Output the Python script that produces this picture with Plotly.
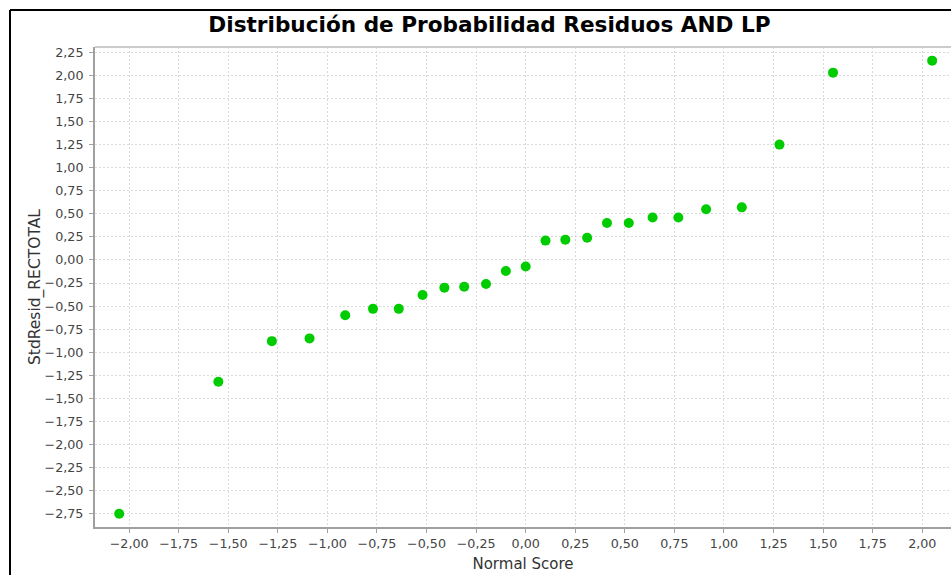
import plotly.graph_objects as go

# Normal scores (x) and standardized residuals (y)
normal_score = [-2.05, -1.55, -1.28, -1.09, -0.91, -0.77, -0.64, -0.52, -0.41, -0.31,
                -0.20, -0.10, 0.00, 0.10, 0.20, 0.31, 0.41, 0.52, 0.64, 0.77,
                0.91, 1.09, 1.28, 1.55, 2.05]
std_resid = [-2.75, -1.32, -0.88, -0.85, -0.60, -0.53, -0.53, -0.38, -0.30, -0.29,
             -0.26, -0.12, -0.07, 0.21, 0.22, 0.24, 0.40, 0.40, 0.46, 0.46,
             0.55, 0.57, 1.25, 2.03, 2.16]

x_ticks = [-2.0, -1.75, -1.5, -1.25, -1.0, -0.75, -0.5, -0.25, 0.0, 0.25, 0.5, 0.75,
           1.0, 1.25, 1.5, 1.75, 2.0]
y_ticks = [2.25, 2.0, 1.75, 1.5, 1.25, 1.0, 0.75, 0.5, 0.25, 0.0, -0.25, -0.5, -0.75,
           -1.0, -1.25, -1.5, -1.75, -2.0, -2.25, -2.5, -2.75]

title_text = "Distribución de Probabilidad Residuos AND LP"
x_title = "Normal Score"
y_title = "StdResid_RECTOTAL"

W, H = 951, 575
L, R, T, B = 95, 0, 47, 48

fig = go.Figure()
fig.add_trace(go.Scatter(
    x=normal_score, y=std_resid, mode="markers",
    marker=dict(size=10, color="#00cc00", line=dict(width=0)),
    showlegend=False, cliponaxis=False,
))

font = "DejaVu Sans"
pw = W - L - R
ph = H - T - B


def px_x(p):
    return (p - L) / pw


def px_y(p):
    return (H - B - p) / ph


fig.update_layout(
    width=W, height=H,
    margin=dict(l=L, r=R, t=T, b=B, pad=0),
    paper_bgcolor="white", plot_bgcolor="white",
    separators=",.",
    title=dict(text=title_text, x=489.5 / W, xanchor="center",
               y=1 - 24.5 / H, yanchor="middle",
               font=dict(family=font, size=21.6, color="black", weight="bold")),
    xaxis=dict(
        range=[-2.172, 2.145], tickvals=x_ticks, tickformat=".2f",
        showgrid=True, gridcolor="#d9d9d9", griddash="2px,2px", gridwidth=1,
        zeroline=False, showline=True, linecolor="#a0a0a0", linewidth=2,
        ticks="outside", ticklen=4, tickcolor="#a0a0a0", tickwidth=1,
        tickfont=dict(family=font, size=12.7, color="#444444"),
        title=dict(text=x_title, font=dict(family=font, size=15, color="#333333"), standoff=8),
    ),
    yaxis=dict(
        range=[-2.894, 2.308], tickvals=y_ticks, tickformat=".2f",
        showgrid=True, gridcolor="#d9d9d9", griddash="2px,2px", gridwidth=1,
        zeroline=False, showline=True, linecolor="#a0a0a0", linewidth=2,
        ticks="outside", ticklen=4, tickcolor="#a0a0a0", tickwidth=1,
        tickfont=dict(family=font, size=12.7, color="#444444"),
        ticklabelstandoff=3,
    ),
    annotations=[
        dict(text=y_title, xref="paper", yref="paper", x=px_x(35), y=px_y(287),
             xanchor="center", yanchor="middle", textangle=-90, showarrow=False,
             font=dict(family=font, size=15.5, color="#333333")),
    ],
    shapes=[
        # top border of plot area
        dict(type="line", xref="paper", yref="paper", x0=0, x1=1.02, y0=1, y1=1,
             line=dict(color="#cccccc", width=2)),
        # outer chart border (left and top)
        dict(type="line", xref="paper", yref="paper", x0=px_x(10), x1=px_x(10),
             y0=px_y(10), y1=px_y(600), line=dict(color="black", width=2)),
        dict(type="line", xref="paper", yref="paper", x0=px_x(10), x1=px_x(1000),
             y0=px_y(10), y1=px_y(10), line=dict(color="black", width=2)),
    ],
)

fig.write_html(
    "out.html",
    config={"displayModeBar": False},
    post_script="document.body.style.margin='0';document.body.style.overflow='hidden';",
)
